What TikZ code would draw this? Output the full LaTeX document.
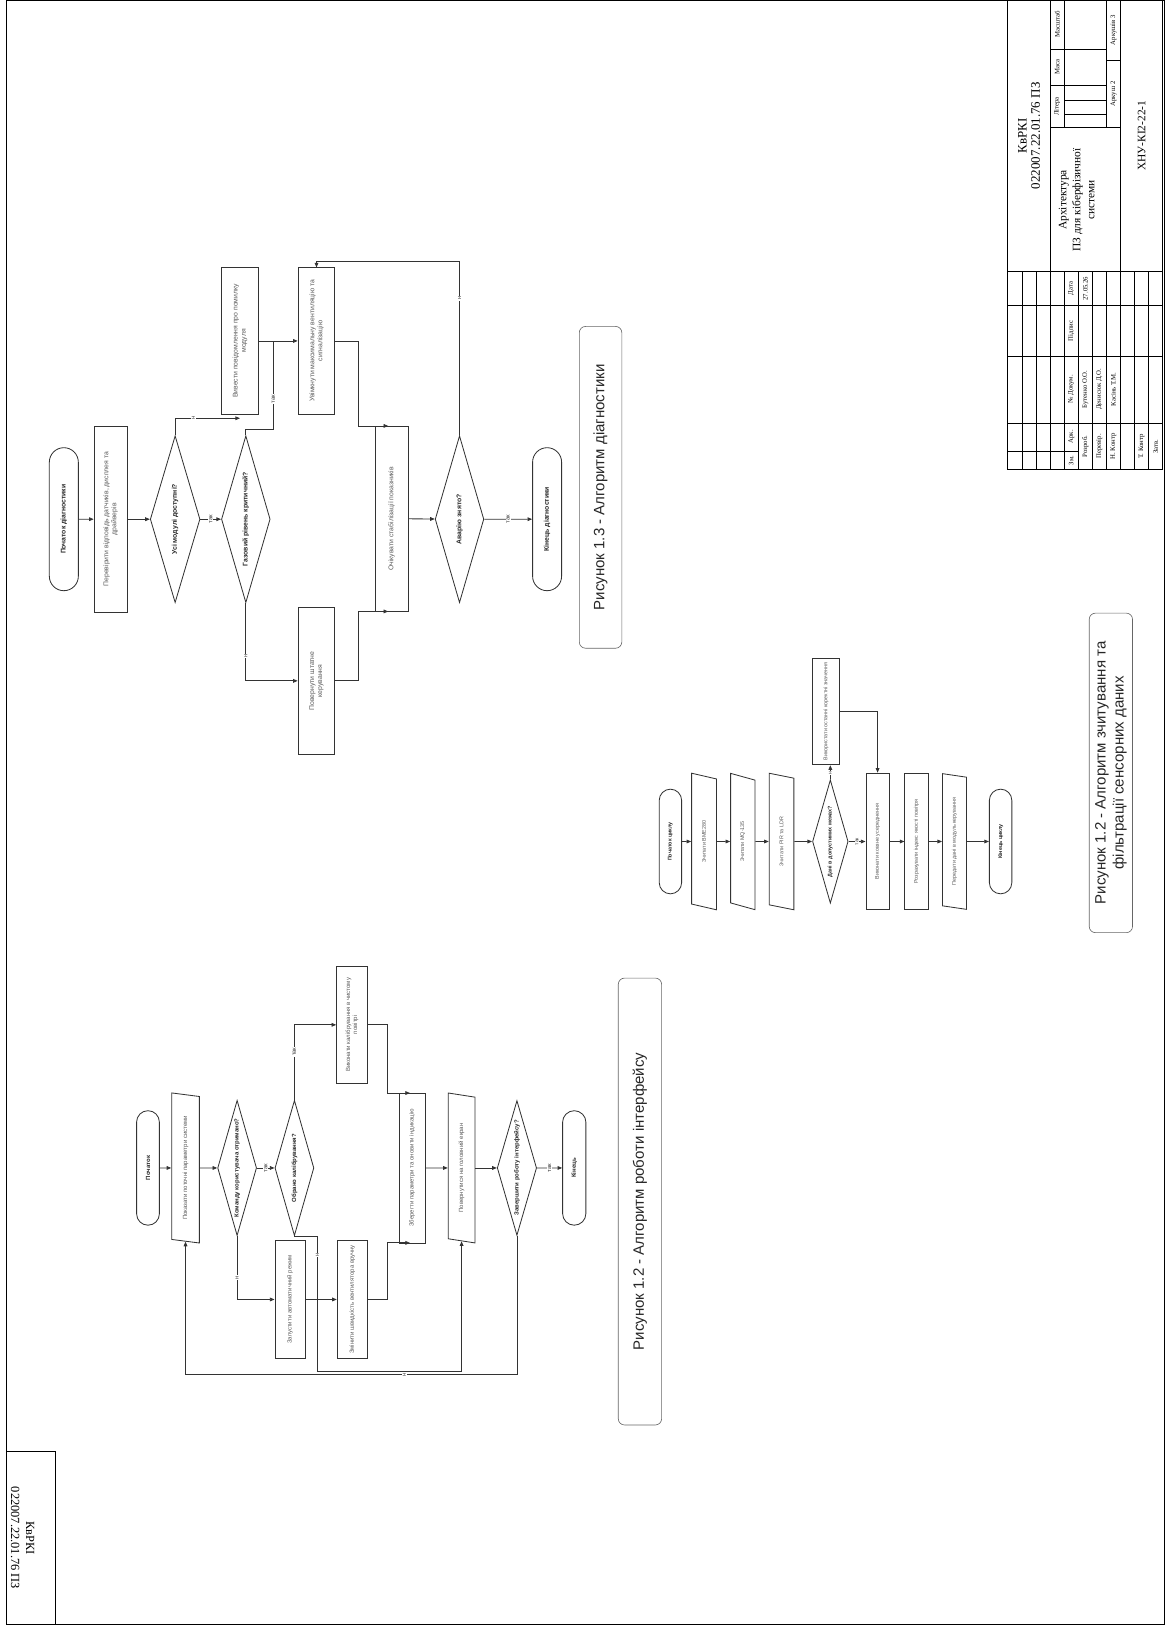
\documentclass[tikz,border=0pt]{standalone}
\usepackage{fontspec}
\setmainfont{Liberation Sans}
\newfontfamily\stampfont{Liberation Serif}
\usetikzlibrary{shapes.geometric, shapes.misc, arrows.meta}

\begin{document}
\begin{tikzpicture}[x=1pt, y=1pt, rotate=90, transform shape,
        fsize/.code 2 args={\def\flowsize{\fontsize{#1}{#2}\selectfont}},
        fsize={6}{7},
        term/.style={draw=black!80, line width=0.8pt, rounded rectangle,
            inner sep=1pt, font=\flowsize\bfseries, text=black!85},
        procbox/.style={draw=black!80, line width=0.8pt, rectangle,
            inner sep=1pt, align=center, font=\flowsize, text=black!65},
        iobox/.style={draw=black!80, line width=0.8pt, trapezium,
            trapezium left angle=71, trapezium right angle=109,
            trapezium stretches=true, inner sep=1pt,
            font=\flowsize, text=black!65},
        decision/.style={draw=black!80, line width=0.8pt, diamond, aspect=3.4,
            inner sep=0pt, align=center, font=\flowsize\bfseries, text=black!85},
        caption/.style={draw=black!60, line width=0.6pt, rounded corners=6pt,
            inner sep=2pt, align=center, text=black!85,
            font=\fontsize{14.5}{17.5}\selectfont},
        arr/.style={draw=black!80, line width=0.8pt,
            -{Triangle[length=4.5pt, width=3.6pt]}},
        conn/.style={draw=black!80, line width=0.8pt},
        yn/.style={fill=white, inner sep=0.8pt, text=black!80,
            font=\fontsize{5.5}{6}\selectfont},
        tbline/.style={draw=black, line width=0.5pt},
        tbbold/.style={draw=black, line width=1pt},
        tbtext/.style={inner sep=0pt, font=\stampfont\fontsize{6.5}{7.5}\selectfont}
    ]
    \useasboundingbox (0,0) rectangle (1568,-1124);

    % sheet frame
    \draw[tbline] (0.4,-5.8) rectangle (1567.6,-1123.4);

    % corner stamp
    \draw[tbline] (168,-5.8) -- (168,-53) -- (0.4,-53);
    \node[tbtext, rotate=180, align=center,
          font=\stampfont\fontsize{12}{14.5}\selectfont] (cornerstamp)
        at (84,-21.8) {КвРКІ\\022007.22.01.76 ПЗ};

    % Diagnostics
    \begin{scope}[fsize={6.6}{7.8}]
        \node[term, minimum width=140, minimum height=28] (dstart)
            at (1067,-61.6) {Початок діагностики};
        \node[procbox, minimum width=180, minimum height=32] (dcheck)
            at (1067,-106.8) {Перевірити відповідь датчиків, дисплея та\\драйверів};
        \node[decision, minimum width=161, minimum height=48] (dmod)
            at (1067,-169) {Усі модулі доступні?};
        \node[decision, minimum width=161, minimum height=47] (dgas)
            at (1067,-237.2) {Газовий рівень критичний?};
        \node[procbox, minimum width=141, minimum height=35.5] (derr)
            at (1239,-231.6) {Вивести повідомлення про помилку\\модуля};
        \node[procbox, minimum width=141, minimum height=35.5] (dvent)
            at (1239,-305.4) {Увімкнути максимальну вентиляцію та\\сигналізацію};
        \node[procbox, minimum width=141, minimum height=35.5] (dnorm)
            at (911,-305.4) {Повернути штатне\\керування};
        \node[procbox, minimum width=179, minimum height=32] (dwait)
            at (1067.5,-377.9) {Очікувати стабілізації показників};
        \node[decision, minimum width=161, minimum height=47] (dclear)
            at (1067,-443.4) {Аварію знято?};
        \node[term, minimum width=140, minimum height=28] (dend)
            at (1067,-527.9) {Кінець діагностики};

        \coordinate (derrin) at (1164.4,-231.6);
        \coordinate (djoin) at (1239,-263.7);
        \coordinate (dwaitin1) at (1157,-374.6);
        \coordinate (dwaitin2) at (978,-374.6);

        \draw[arr] (dstart) -- (dcheck);
        \draw[arr] (dcheck) -- (dmod);
        \draw[arr] (dmod) -- node[yn]{так} (dgas);
        \draw[arr] (dmod.east) -| node[yn, pos=0.64]{н} (derrin);
        \draw[conn] (dgas.east) -- ++(6,0) |- node[yn, pos=0.67]{так} (djoin);
        \draw[arr] (derr) -- (dvent);
        \draw[arr] (dgas.west) -| node[yn, pos=0.34]{н} (dnorm.north);
        \draw[arr] (dvent.south) -- ++(0,-22.5) -| (dwaitin1);
        \draw[arr] (dnorm.south) -- ++(0,-22.5) -| (dwaitin2);
        \draw[arr] (dwait) -- (dclear);
        \draw[arr] (dclear) -- node[yn]{так} (dend);
        \draw[arr] (dclear.east) -- node[yn, pos=0.79]{н} ++(167.5,0) |- (dvent.east);
    \end{scope}
    \node[caption, minimum width=310.5, minimum height=41] (dcap)
        at (1097.75,-579.5) {Рисунок 1.3 - Алгоритм діагностики};

    % Interface
    \begin{scope}[fsize={5.8}{6.8}]
        \node[term, minimum width=112.5, minimum height=22] (istart)
            at (441,-142.8) {Початок};
        \node[iobox, minimum width=145, minimum height=26.7] (ishow)
            at (441,-179) {Показати поточні параметри системи};
        \node[decision, minimum width=130.5, minimum height=37.6] (icmd)
            at (441,-228.8) {Команду користувача отримано?};
        \node[decision, minimum width=130.5, minimum height=37.6] (ical)
            at (441,-284.1) {Обрано калібрування?};
        \node[procbox, minimum width=112.6, minimum height=29.6] (icalib)
            at (579.1,-339.6) {Виконати калібрування в чистому\\повітрі};
        \node[procbox, minimum width=113.2, minimum height=29] (iauto)
            at (314.1,-279.8) {Запустити автоматичний режим};
        \node[procbox, minimum width=113.2, minimum height=29] (ifan)
            at (314.1,-339.9) {Змінити швидкість вентилятора вручну};
        \node[procbox, minimum width=144.7, minimum height=24.7] (isave)
            at (441,-397.7) {Зберегти параметри та оновити індикацію};
        \node[iobox, minimum width=145, minimum height=25.8] (iback)
            at (441,-445.4) {Повернутися на головний екран};
        \node[decision, minimum width=130, minimum height=38] (iexit)
            at (441,-498.8) {Завершити роботу інтерфейсу?};
        \node[term, minimum width=112.5, minimum height=22.5] (iend)
            at (441,-554.1) {Кінець};

        \coordinate (isavein1) at (513.3,-395.6);
        \coordinate (isavein2) at (368.7,-395.6);

        \draw[arr] (istart) -- (ishow);
        \draw[arr] (ishow) -- (icmd);
        \draw[arr] (icmd) -- node[yn]{так} (ical);
        \draw[arr] (ical.east) -| node[yn, pos=0.32]{так} (icalib.north);
        \draw[arr] (icalib.south) -- ++(0,-18.6) -| (isavein1);
        \draw[arr] (icmd.west) -| node[yn, pos=0.33]{н} (iauto.north);
        \draw[arr] (iauto) -- (ifan);
        \draw[arr] (ifan.south) -- ++(0,-18.6) -| (isavein2);
        \draw[arr] (isave) -- (iback);
        \draw[arr] (iback) -- (iexit);
        \draw[arr] (iexit) -- node[yn]{так} (iend);
        \draw[arr] (ical.west) |- node[yn, pos=0.57]{н} (244.6,-306.2) |- (iback.west);
        \draw[arr] (iexit.west) -- (241.4,-498.8) |- node[yn, pos=0.17]{н} (ishow.west);
    \end{scope}
    \node[caption, minimum width=431.2, minimum height=41.8] (icap)
        at (408.6,-617.5) {Рисунок 1.2 - Алгоритм роботи інтерфейсу};

    % Sensor data
    \begin{scope}[fsize={5.2}{6.2}, yn/.append style={font=\fontsize{4.8}{5}\selectfont}]
        \node[term, minimum width=103, minimum height=21.6] (sstart)
            at (756,-646.9) {Початок циклу};
        \node[iobox, minimum width=132, minimum height=24] (sbme)
            at (756,-679.35) {Зчитати BME280};
        \node[iobox, minimum width=132, minimum height=23.5] (smq)
            at (756,-716.7) {Зчитати MQ-135};
        \node[iobox, minimum width=132, minimum height=23.8] (spir)
            at (756,-754.1) {Зчитати PIR та LDR};
        \node[decision, minimum width=119, minimum height=34.4] (srange)
            at (756,-801.2) {Дані в допустимих межах?};
        \node[procbox, minimum width=103, minimum height=26.7] (slast)
            at (881.5,-797) {Використати останні коректні значення};
        \node[procbox, minimum width=132, minimum height=22.5] (ssmooth)
            at (756,-846.8) {Виконати ковзне усереднення};
        \node[procbox, minimum width=132, minimum height=22.5] (saqi)
            at (756,-884.35) {Розрахувати індекс якості повітря};
        \node[iobox, minimum width=132, minimum height=23.1] (ssend)
            at (756,-921) {Передати дані в модуль керування};
        \node[term, minimum width=103, minimum height=21.7] (send)
            at (756,-965.5) {Кінець циклу};

        \draw[arr] (sstart) -- (sbme);
        \draw[arr] (sbme) -- (smq);
        \draw[arr] (smq) -- (spir);
        \draw[arr] (spir) -- (srange);
        \draw[arr] (srange) -- node[yn]{так} (ssmooth);
        \draw[arr] (srange.east) -- node[yn, pos=0.45]{н} (srange.east -| slast.west);
        \draw[arr] (slast.south) |- (ssmooth.east);
        \draw[arr] (ssmooth) -- (saqi);
        \draw[arr] (saqi) -- (ssend);
        \draw[arr] (ssend) -- (send);
    \end{scope}
    \node[caption, minimum width=308.3, minimum height=41.8] (scap)
        at (822.2,-1071.9) {Рисунок 1.2 - Алгоритм зчитування та\\фільтрації сенсорних даних};

    % Title block
    \draw[tbbold] (1114.5,-972.5) rectangle (1567.6,-1122);
    \foreach \r in {1,2,3,6,7,8,9,10}
        \draw[tbline] (1114.5,{-972.5-13.59*\r}) -- (1306,{-972.5-13.59*\r});
    \foreach \r in {4,5}
        \draw[tbbold] (1114.5,{-972.5-13.59*\r}) -- (1306,{-972.5-13.59*\r});
    \draw[tbline] (1133,-972.5) -- (1133,-1040.45);
    \foreach \c in {1160,1224.5,1273}
        \draw[tbline] (\c,-972.5) -- (\c,-1122);
    \draw[tbbold] (1306,-972.5) -- (1306,-1122);
    \draw[tbbold] (1306,-1013.27) -- (1567.6,-1013.27);
    \draw[tbbold] (1306,-1081.22) -- (1567.6,-1081.22);
    \draw[tbbold] (1444.5,-1013.27) -- (1444.5,-1081.22);
    \draw[tbline] (1444.5,-1026.86) -- (1567.6,-1026.86);
    \draw[tbline] (1444.5,-1067.63) -- (1567.6,-1067.63);
    \foreach \c in {1486,1520.7}
        \draw[tbline] (\c,-1013.27) -- (\c,-1067.63);
    \foreach \c in {1458,1471.5}
        \draw[tbline] (\c,-1026.86) -- (\c,-1067.63);
    \draw[tbline] (1510,-1067.63) -- (1510,-1081.22);

    \node[tbtext, align=center, font=\stampfont\fontsize{12.5}{12.8}\selectfont] (tbcode)
        at (1437,-992.9) {КвРКІ\\022007.22.01.76 ПЗ};
    \node[tbtext, align=center, font=\stampfont\fontsize{11}{13.5}\selectfont] (tbname)
        at (1375,-1038.8) {Архітектура\\ПЗ для кіберфізичної\\системи};
    \node[tbtext, font=\stampfont\fontsize{11}{13}\selectfont] (tbgroup)
        at (1437,-1101.6) {ХНУ-КІ2-22-1};
    \node[tbtext] (tblit) at (1465.25,-1020.07) {Літера};
    \node[tbtext] (tbmass) at (1503.35,-1020.07) {Маса};
    \node[tbtext] (tbscale) at (1544.35,-1020.07) {Масштаб};
    \node[tbtext] (tbsheet) at (1477.25,-1074.43) {Аркуш 2};
    \node[tbtext] (tbsheets) at (1539,-1074.43) {Аркушів 3};

    \node[tbtext] (hzm) at (1123.75,-1033.66) {Зм.};
    \node[tbtext] (hark) at (1146.5,-1033.66) {Арк.};
    \node[tbtext] (hdoc) at (1192.25,-1033.66) {№ Докум.};
    \node[tbtext] (hsign) at (1248.75,-1033.66) {Підпис};
    \node[tbtext] (hdate) at (1289.5,-1033.66) {Дата};
    \node[tbtext] (rdev) at (1137.25,-1047.25) {Розроб.};
    \node[tbtext] (ndev) at (1192.25,-1047.25) {Бутенко О.О.};
    \node[tbtext] (ddev) at (1289.5,-1047.25) {27.05.26};
    \node[tbtext] (rchk) at (1137.25,-1060.84) {Перевір.};
    \node[tbtext] (nchk) at (1192.25,-1060.84) {Денисюк Д.О.};
    \node[tbtext] (rnk) at (1137.25,-1074.43) {Н. Контр};
    \node[tbtext] (nnk) at (1192.25,-1074.43) {Касінь Т.М.};
    \node[tbtext] (rtk) at (1137.25,-1101.6) {Т. Контр};
    \node[tbtext] (rappr) at (1137.25,-1115.2) {Затв.};
\end{tikzpicture}
\end{document}
